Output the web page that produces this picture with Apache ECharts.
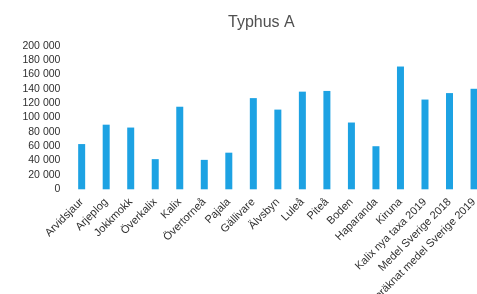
<!DOCTYPE html>
<html>
<head>
<meta charset="utf-8">
<script src="https://cdn.jsdelivr.net/npm/echarts@6/dist/echarts.min.js"></script>
<style>
html,body{margin:0;padding:0;background:#fff;}
#c{width:477px;height:294px;}
</style>
</head>
<body>
<div id="c"></div>
<script>
const categories = ["Arvidsjaur","Arjeplog","Jokkmokk","Överkalix","Kalix","Övertorneå","Pajala","Gällivare","Älvsbyn","Luleå","Piteå","Boden","Haparanda","Kiruna","Kalix nya taxa 2019","Medel Sverige 2018","Uppräknat medel Sverige 2019"];
const values = [63000,90000,86000,42000,115000,41000,51000,127000,111000,136000,137000,93000,60000,171000,125000,134000,140000];
const yMin = 0, yMax = 200000, yStep = 20000;

const chart = echarts.init(document.getElementById('c'), null, {renderer:'canvas'});
const font = '"Liberation Sans", Arial, sans-serif';
chart.setOption({
  animation:false,
  title:{text:'Typhus A', left:223, top:10,
    textStyle:{fontFamily:font, fontSize:16, fontWeight:'normal', color:'#505050'}},
  grid:{left:69.4, right:-9.3, top:45.7, bottom:104.7, containLabel:false, outerBoundsMode:'none'},
  xAxis:{type:'category', data:categories,
    axisLine:{show:false}, axisTick:{show:false},
    axisLabel:{rotate:45, interval:0, fontFamily:font, fontSize:11, color:'#303030', margin:11}},
  yAxis:{type:'value', min:yMin, max:yMax, interval:yStep,
    splitLine:{show:false}, axisLine:{show:false}, axisTick:{show:false},
    axisLabel:{fontFamily:font, fontSize:10.5, color:'#303030', margin:9,
      formatter:v=>String(v).replace(/\B(?=(\d{3})+(?!\d))/g,' ')}},
  series:[{type:'bar', data:values, barWidth:7, itemStyle:{color:'#1da2e3'}}]
});
</script>
</body>
</html>
